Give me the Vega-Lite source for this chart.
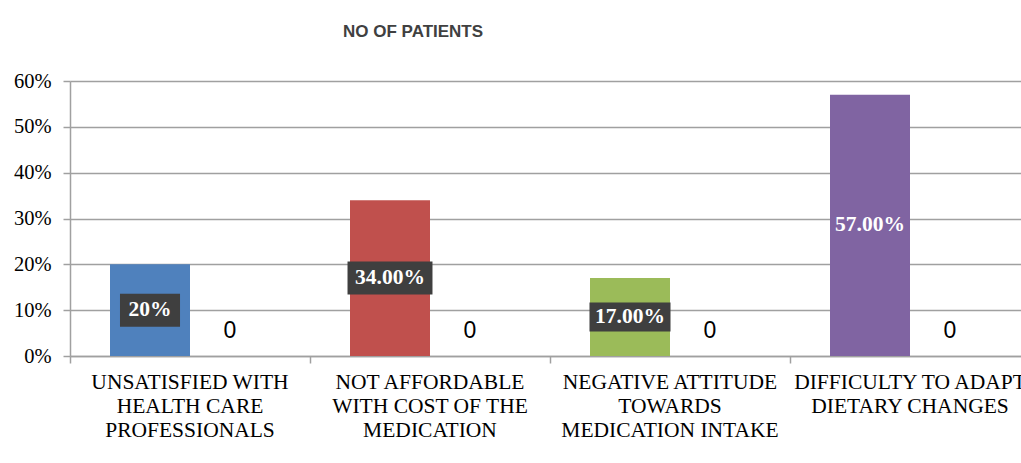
{
  "$schema": "https://vega.github.io/schema/vega-lite/v6.json",
  "width": 951,
  "height": 275,
  "autosize": {"type": "none"},
  "padding": {"left": 70, "top": 81, "right": 0, "bottom": 107},
  "background": "white",
  "title": {"text": "NO OF PATIENTS", "anchor": "start", "frame": "group", "dx": 273, "offset": 17, "font": "Liberation Sans", "fontSize": 17, "fontWeight": "bold", "color": "#404040", "baseline": "alphabetic"},
  "config": {"view": {"stroke": null}, "axis": {"domainColor": "#A0A0A0", "tickColor": "#A0A0A0", "gridColor": "#A0A0A0"}},
  "data": {"values": [
    {"cause": "UNSATISFIED WITH|HEALTH CARE|PROFESSIONALS", "series": "A", "value": 20, "label": "20%"},
    {"cause": "UNSATISFIED WITH|HEALTH CARE|PROFESSIONALS", "series": "B", "value": 0, "label": "0"},
    {"cause": "NOT AFFORDABLE|WITH COST OF THE|MEDICATION", "series": "A", "value": 34, "label": "34.00%"},
    {"cause": "NOT AFFORDABLE|WITH COST OF THE|MEDICATION", "series": "B", "value": 0, "label": "0"},
    {"cause": "NEGATIVE ATTITUDE|TOWARDS|MEDICATION INTAKE", "series": "A", "value": 17, "label": "17.00%"},
    {"cause": "NEGATIVE ATTITUDE|TOWARDS|MEDICATION INTAKE", "series": "B", "value": 0, "label": "0"},
    {"cause": "DIFFICULTY TO ADAPT|DIETARY CHANGES", "series": "A", "value": 57, "label": "57.00%"},
    {"cause": "DIFFICULTY TO ADAPT|DIETARY CHANGES", "series": "B", "value": 0, "label": "0"}
  ]},
  "encoding": {
    "x": {"field": "cause", "type": "nominal", "sort": null,
      "scale": {"range": [0, 960], "paddingInner": 0, "paddingOuter": 0},
      "axis": {"title": null, "bandPosition": 0, "labelExpr": "split(datum.value, '|')", "labelFont": "Liberation Serif", "labelFontSize": 21.5, "labelColor": "#000000", "labelLineHeight": 24, "labelPadding": 8, "labelLimit": 400, "tickSize": 7, "tickWidth": 1.5, "domainWidth": 1.5, "labelAngle": 0, "labelOverlap": false, "labelBound": false, "grid": false, "labelBaseline": "top"}},
    "xOffset": {"field": "series", "type": "nominal", "scale": {"domain": ["A", "B"], "paddingInner": 0, "paddingOuter": 0.5}}
  },
  "layer": [
    {
      "transform": [{"filter": "datum.series == 'A'"}],
      "mark": {"type": "bar"},
      "encoding": {
        "y": {"field": "value", "type": "quantitative", "scale": {"domain": [0, 60], "nice": false},
          "axis": {"title": null, "values": [0, 10, 20, 30, 40, 50, 60], "labelExpr": "datum.value + '%'", "labelFont": "Liberation Serif", "labelFontSize": 20.5, "labelColor": "#000000", "tickSize": 7, "labelPadding": 12, "gridWidth": 1.5, "domainWidth": 1.5, "tickWidth": 1.5}},
        "color": {"field": "cause", "type": "nominal", "legend": null,
          "scale": {"domain": ["UNSATISFIED WITH|HEALTH CARE|PROFESSIONALS", "NOT AFFORDABLE|WITH COST OF THE|MEDICATION", "NEGATIVE ATTITUDE|TOWARDS|MEDICATION INTAKE", "DIFFICULTY TO ADAPT|DIETARY CHANGES"], "range": ["#4F81BD", "#C0504D", "#9BBB59", "#8064A2"]}}
      }
    },
    {
      "transform": [{"filter": "datum.series == 'B'"}],
      "mark": {"type": "text", "dy": -25, "baseline": "middle", "align": "center", "font": "Liberation Sans", "fontSize": 23, "color": "#000000"},
      "encoding": {
        "y": {"field": "value", "type": "quantitative", "scale": {"domain": [0, 60], "nice": false}, "axis": null},
        "text": {"field": "label"}
      }
    },
    {
      "transform": [{"filter": "datum.series == 'A'"}],
      "mark": {"type": "point", "filled": true, "size": 7396, "opacity": 1, "strokeWidth": 0},
      "encoding": {
        "y": {"field": "value", "type": "quantitative", "scale": {"domain": [0, 120], "nice": false}, "axis": null},
        "shape": {"field": "cause", "type": "nominal", "legend": null,
          "scale": {"domain": ["UNSATISFIED WITH|HEALTH CARE|PROFESSIONALS", "NOT AFFORDABLE|WITH COST OF THE|MEDICATION", "NEGATIVE ATTITUDE|TOWARDS|MEDICATION INTAKE", "DIFFICULTY TO ADAPT|DIETARY CHANGES"],
            "range": ["M-0.698,-0.384H0.698V0.384H-0.698Z", "M-0.988,-0.384H0.988V0.384H-0.988Z", "M-0.942,-0.337H0.942V0.337H-0.942Z", "M-0.01,-0.01H0.01V0.01H-0.01Z"]}},
        "fill": {"field": "cause", "type": "nominal", "legend": null,
          "scale": {"domain": ["UNSATISFIED WITH|HEALTH CARE|PROFESSIONALS", "NOT AFFORDABLE|WITH COST OF THE|MEDICATION", "NEGATIVE ATTITUDE|TOWARDS|MEDICATION INTAKE", "DIFFICULTY TO ADAPT|DIETARY CHANGES"], "range": ["#3F3F3F", "#3F3F3F", "#3F3F3F", "rgba(0,0,0,0)"]}}
      }
    },
    {
      "transform": [{"filter": "datum.series == 'A'"}],
      "mark": {"type": "text", "baseline": "middle", "align": "center", "font": "Liberation Serif", "fontSize": 21.5, "fontWeight": "bold", "color": "#FFFFFF"},
      "encoding": {
        "y": {"field": "value", "type": "quantitative", "scale": {"domain": [0, 120], "nice": false}, "axis": null},
        "text": {"field": "label"}
      }
    }
  ],
  "resolve": {"scale": {"y": "independent"}}
}
